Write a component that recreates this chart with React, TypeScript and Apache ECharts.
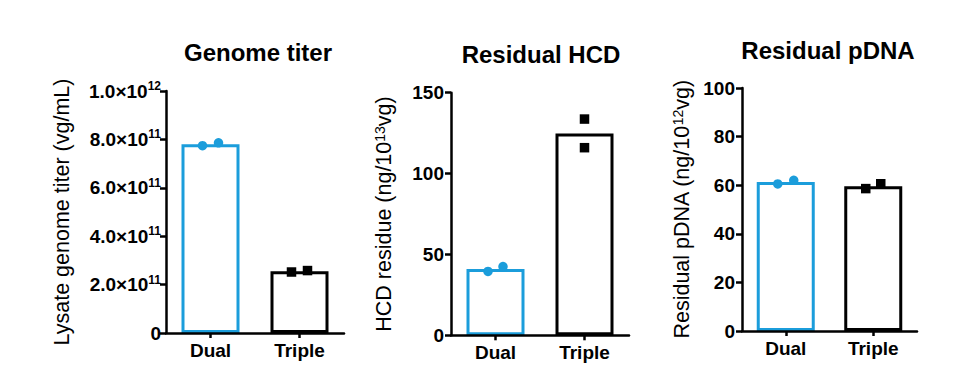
import React, { useEffect, useRef } from "react";
import * as echarts from "echarts";

const categories = ["Dual", "Triple"];

const titles = ["Genome titer", "Residual HCD", "Residual pDNA"];

// Genome titer (vg/mL)
const titerBars = [7.8e11, 2.55e11];
const titerDual = [7.74e11, 7.86e11];
const titerTriple = [2.52e11, 2.58e11];

// Residual HCD (ng/10^13 vg)
const hcdBars = [41, 124.8];
const hcdDual = [39.5, 42.5];
const hcdTriple = [133.7, 116];

// Residual pDNA (ng/10^12 vg)
const pdnaBars = [61.3, 59.6];
const pdnaDual = [60.5, 62.0];
const pdnaTriple = [58.6, 60.6];

const BLUE = "#1b9ddb";
const FONT = "'Liberation Sans', Arial, Helvetica, sans-serif";

function sci(v: number): string {
  if (v === 0) return "0";
  const e = Math.floor(Math.log10(v) + 1e-9);
  const m = v / Math.pow(10, e);
  return `{b|${m.toFixed(1)}×10}{s|${e}}`;
}

export default function App() {
  const ref = useRef<HTMLDivElement>(null);
  useEffect(() => {
    document.body.style.margin = "0";
    if (!ref.current) return;
    const chart = echarts.init(ref.current, null, { renderer: "svg" });

    const grids = [
      { left: 166, top: 91, width: 178, height: 242 },
      { left: 451, top: 92.7, width: 178, height: 242.6 },
      { left: 742, top: 88, width: 175, height: 243 },
    ];

    const axisLine = { show: true, lineStyle: { color: "#000", width: 2.5 } };

    const xAxes = grids.map((_, i) => ({
      type: "category",
      gridIndex: i,
      z: 10,
      data: categories,
      axisLine,
      axisTick: { show: true, alignWithLabel: true, length: 5, lineStyle: { color: "#000", width: 2.5 } },
      axisLabel: { color: "#000", fontSize: 19, fontWeight: "bold", fontFamily: FONT, margin: 8 },
      splitLine: { show: false },
    }));

    const richName = {
      s: { fontSize: 14, fontFamily: FONT, color: "#000", verticalAlign: "top", lineHeight: 14 },
    };
    const richTick = {
      b: { fontSize: 19, fontWeight: "bold", fontFamily: FONT, color: "#000", lineHeight: 22 },
      s: { fontSize: 12, fontWeight: "bold", fontFamily: FONT, color: "#000", verticalAlign: "top", lineHeight: 12 },
    };

    const nameStyle = { color: "#000", fontSize: 21.5, fontFamily: FONT, rich: richName };

    const yCommon = {
      type: "value",
      z: 10,
      axisLine,
      axisTick: { show: true, length: 6, lineStyle: { color: "#000", width: 2.5 } },
      splitLine: { show: false },
      nameLocation: "middle",
      nameRotate: 90,
    };

    const yAxes = [
      {
        ...yCommon,
        gridIndex: 0,
        min: 0,
        max: 1e12,
        interval: 2e11,
        name: "Lysate genome titer (vg/mL)",
        nameGap: 93,
        nameTextStyle: nameStyle,
        axisLabel: {
          margin: 5,
          formatter: (v: number) => (v === 0 ? "{b|0}" : sci(v)),
          rich: richTick,
        },
      },
      {
        ...yCommon,
        gridIndex: 1,
        min: 0,
        max: 150,
        interval: 50,
        name: "HCD residue (ng/10{s|13}vg)",
        nameGap: 56,
        nameTextStyle: nameStyle,
        axisLabel: { margin: 7, color: "#000", fontSize: 19, fontWeight: "bold", fontFamily: FONT },
      },
      {
        ...yCommon,
        gridIndex: 2,
        min: 0,
        max: 100,
        interval: 20,
        name: "Residual pDNA (ng/10{s|12}vg)",
        nameGap: 49,
        nameTextStyle: nameStyle,
        axisLabel: { margin: 7, color: "#000", fontSize: 19, fontWeight: "bold", fontFamily: FONT },
      },
    ];

    const barSeries = (i: number, vals: number[]) => ({
      type: "bar",
      xAxisIndex: i,
      yAxisIndex: i,
      barWidth: 58,
      z: 2,
      data: vals.map((v, k) => ({
        value: v,
        itemStyle: { color: "#fff", borderColor: k === 0 ? BLUE : "#000", borderWidth: 3 },
      })),
    });

    const pts = (i: number, cat: string, vals: number[], offs: number[], symbol: string, color: string) => ({
      type: "scatter",
      xAxisIndex: i,
      yAxisIndex: i,
      symbol,
      symbolSize: 9.5,
      z: 5,
      itemStyle: { color, opacity: 1 },
      data: vals.map((v, k) => ({ value: [cat, v], symbolOffset: [offs[k], 0] })),
    });

    const titleTops = [40, 42, 38];
    const titleCenters = [258, 541, 828];

    chart.setOption({
      animation: false,
      backgroundColor: "#fff",
      title: titles.map((t, i) => ({
        text: t,
        left: titleCenters[i],
        top: titleTops[i],
        textAlign: "center",
        padding: 0,
        textStyle: { fontSize: 24, fontWeight: "bold", color: "#000", fontFamily: FONT },
      })),
      grid: grids.map((g) => ({ ...g, containLabel: false })),
      xAxis: xAxes,
      yAxis: yAxes,
      series: [
        barSeries(0, titerBars),
        barSeries(1, hcdBars),
        barSeries(2, pdnaBars),
        pts(0, "Dual", titerDual, [-8, 8], "circle", BLUE),
        pts(0, "Triple", titerTriple, [-8, 8], "rect", "#000"),
        pts(1, "Dual", hcdDual, [-7.5, 7.5], "circle", BLUE),
        pts(1, "Triple", hcdTriple, [0, 0], "rect", "#000"),
        pts(2, "Dual", pdnaDual, [-8, 8], "circle", BLUE),
        pts(2, "Triple", pdnaTriple, [-7.5, 7.5], "rect", "#000"),
      ],
    });
    return () => chart.dispose();
  }, []);
  return <div ref={ref} style={{ width: 980, height: 391 }} />;
}
